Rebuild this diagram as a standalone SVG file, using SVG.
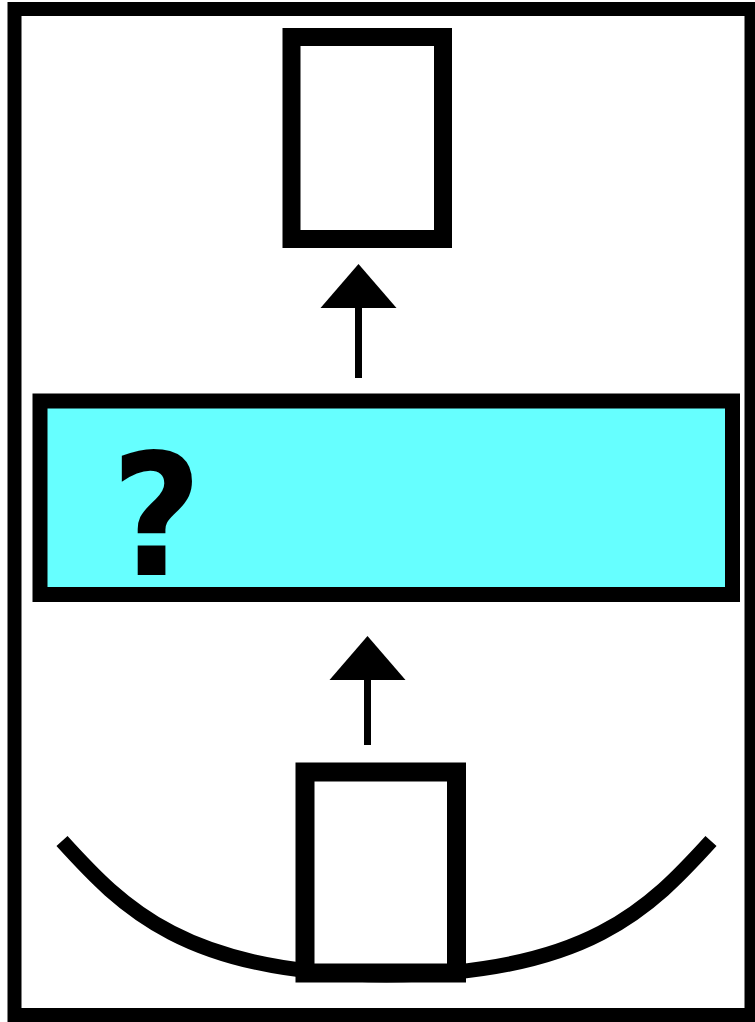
<svg xmlns="http://www.w3.org/2000/svg" width="755" height="1022" viewBox="0 0 755 1022">
<style>
.frame{fill:#ffffff;stroke:#000;stroke-width:14}
.box{fill:#ffffff;stroke:#000}
.proc{fill:#66ffff;stroke:#000;stroke-width:15}
.conn{stroke:#000;stroke-width:7;fill:none}
.q{font-family:"DejaVu Sans",sans-serif;font-weight:bold;font-size:170px;fill:#000}
.curve{fill:none;stroke:#000;stroke-width:15;stroke-linecap:butt}
</style>
<defs>
<marker id="arr" markerUnits="userSpaceOnUse" markerWidth="44" markerHeight="76" refX="0" refY="0" orient="auto" overflow="visible">
<path d="M0,-38 L44,0 L0,38 z" fill="#000"/>
</marker>
</defs>
<rect class="frame" x="14.5" y="9" width="737" height="1006"/>
<g id="top-box">
<rect class="box" x="291.5" y="37" width="151.5" height="202" stroke-width="18"/>
</g>
<g id="process">
<rect class="proc" x="40" y="401" width="692.5" height="193.5"/>
<text class="q" transform="translate(111 575) scale(0.925 1)" x="0" y="0">?</text>
</g>
<g id="base">
<path class="curve" d="M62,841 C122,907 186,975 386.5,975 C587,975 651,907 711,841"/>
<rect class="box" x="305" y="772" width="151.5" height="201" stroke-width="19"/>
</g>
<g id="connectors">
<line class="conn" x1="358.5" y1="378" x2="358.5" y2="308" marker-end="url(#arr)"/>
<line class="conn" x1="367.5" y1="745" x2="367.5" y2="680" marker-end="url(#arr)"/>
</g>
</svg>
